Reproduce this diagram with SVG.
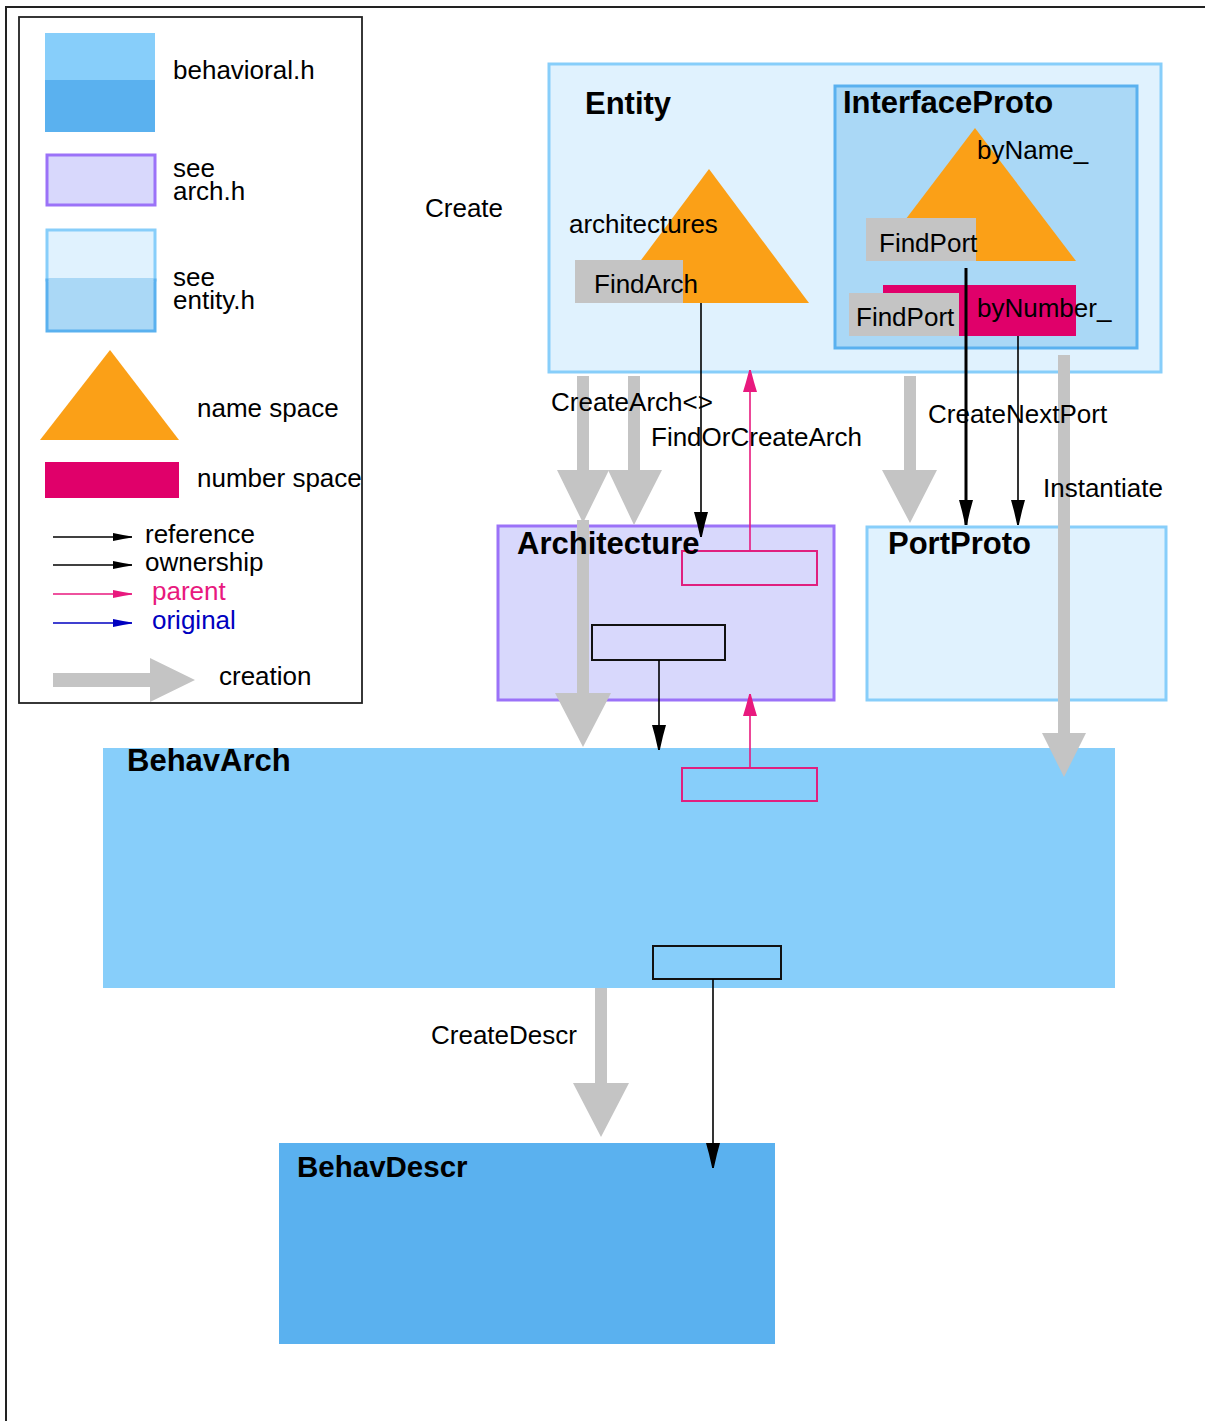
<svg xmlns="http://www.w3.org/2000/svg" width="1205" height="1421" viewBox="0 0 1205 1421">
  <style>
    text { font-family: "Liberation Sans", Arial, sans-serif; fill: #000; }
    .t { font-size: 26px; }
    .title { font-size: 31px; font-weight: bold; }
    .frame { fill: none; stroke: #222; stroke-width: 2; }
    .ent { fill: #E0F2FE; stroke: #87CEFA; stroke-width: 3; }
    .iface { fill: #AAD8F6; stroke: #5AB1EF; stroke-width: 3; }
    .arch { fill: #D8D8FC; stroke: #9B72F8; stroke-width: 3; }
    .behav { fill: #87CEFA; }
    .descr { fill: #5AB1EF; }
    .ns { fill: #FBA017; }
    .num { fill: #E0006A; }
    .method { fill: #C4C4C4; }
    .slotP { fill: none; stroke: #E0207F; stroke-width: 2; }
    .slotK { fill: none; stroke: #111; stroke-width: 2; }
    .create { fill: #C4C4C4; }
    .ref { stroke: #000; stroke-width: 1.6; fill: none; }
    .own { stroke: #000; stroke-width: 3; fill: none; }
    .par { stroke: #E8197E; stroke-width: 1.6; fill: none; }
    .orig { stroke: #0000C0; stroke-width: 1.6; fill: none; }
  </style>
  <defs>
    <marker id="headK" markerUnits="userSpaceOnUse" viewBox="-26 -8 28 16" refX="0" refY="0" markerWidth="28" markerHeight="16" orient="auto">
      <path d="M-25,-7 L-25,7 L-14,4 L0,0.8 L0,-0.8 L-14,-4 Z" fill="#000"/>
    </marker>
    <marker id="headP" markerUnits="userSpaceOnUse" viewBox="-26 -8 28 16" refX="0" refY="0" markerWidth="28" markerHeight="16" orient="auto">
      <path d="M-22,-7 L-22,7 L-12,4 L0,0.8 L0,-0.8 L-12,-4 Z" fill="#E8197E"/>
    </marker>
    <marker id="smallK" markerUnits="userSpaceOnUse" viewBox="-20 -5 21 10" refX="0" refY="0" markerWidth="21" markerHeight="10" orient="auto">
      <path d="M-19,-4 L-19,4 L-9,2 L0,0.5 L0,-0.5 L-9,-2 Z" fill="#000"/>
    </marker>
    <marker id="smallP" markerUnits="userSpaceOnUse" viewBox="-20 -5 21 10" refX="0" refY="0" markerWidth="21" markerHeight="10" orient="auto">
      <path d="M-19,-4 L-19,4 L-9,2 L0,0.5 L0,-0.5 L-9,-2 Z" fill="#E8197E"/>
    </marker>
    <marker id="smallB" markerUnits="userSpaceOnUse" viewBox="-20 -5 21 10" refX="0" refY="0" markerWidth="21" markerHeight="10" orient="auto">
      <path d="M-19,-4 L-19,4 L-9,2 L0,0.5 L0,-0.5 L-9,-2 Z" fill="#0000C0"/>
    </marker>
  </defs>

  <rect width="1205" height="1421" fill="#fff"/>

  <!-- page frame -->
  <path class="frame" d="M1205,7 H6 V1421"/>

  <!-- legend -->
  <g id="legend">
    <rect x="19" y="17" width="343" height="686" fill="#fff" stroke="#222" stroke-width="1.8"/>
    <rect x="45" y="33" width="110" height="47" fill="#87CEFA"/>
    <rect x="45" y="80" width="110" height="52" fill="#5AB1EF"/>
    <text class="t" x="173" y="79">behavioral.h</text>
    <rect x="47" y="155" width="108" height="50" class="arch"/>
    <text class="t" x="173" y="177">see</text>
    <text class="t" x="173" y="200">arch.h</text>
    <rect x="47" y="230" width="108" height="50" fill="#E0F2FE" stroke="#87CEFA" stroke-width="3"/>
    <rect x="47" y="280" width="108" height="51" fill="#AAD8F6" stroke="#5AB1EF" stroke-width="3"/>
    <rect x="48.5" y="278" width="105" height="4" fill="#AAD8F6"/>
    <text class="t" x="173" y="286">see</text>
    <text class="t" x="173" y="309">entity.h</text>
    <polygon class="ns" points="110,350 179,440 40,440"/>
    <text class="t" x="197" y="417">name space</text>
    <rect class="num" x="45" y="462" width="134" height="36"/>
    <text class="t" x="197" y="487">number space</text>
    <line class="ref" x1="53" y1="537" x2="132" y2="537" marker-end="url(#smallK)"/>
    <text class="t" x="145" y="543">reference</text>
    <line class="ref" x1="53" y1="565" x2="132" y2="565" marker-end="url(#smallK)"/>
    <text class="t" x="145" y="571">ownership</text>
    <line class="par" x1="53" y1="594" x2="132" y2="594" marker-end="url(#smallP)"/>
    <text class="t" x="152" y="600" style="fill:#E8197E">parent</text>
    <line class="orig" x1="53" y1="623" x2="132" y2="623" marker-end="url(#smallB)"/>
    <text class="t" x="152" y="629" style="fill:#0000C0">original</text>
    <polygon class="create" points="53,673 150,673 150,658 195,680 150,702 150,687 53,687"/>
    <text class="t" x="219" y="685">creation</text>
  </g>

  <!-- Entity with its InterfaceProto -->
  <g id="entity">
    <rect class="ent" x="549" y="64" width="612" height="308"/>
    <text class="title" x="585" y="114">Entity</text>
    <polygon class="ns" points="709,169 809,303 609,303"/>
    <text class="t" x="569" y="233">architectures</text>
    <rect class="method" x="575" y="260" width="108" height="43"/>
    <text class="t" x="594" y="293">FindArch</text>
  </g>
  <g id="interfaceproto">
    <rect class="iface" x="835" y="86" width="302" height="262"/>
    <text class="title" x="843" y="113">InterfaceProto</text>
    <polygon class="ns" points="975,128 1076,261 874,261"/>
    <text class="t" x="977" y="159">byName_</text>
    <rect class="method" x="866" y="218" width="110" height="43"/>
    <text class="t" x="879" y="252">FindPort</text>
    <rect class="num" x="883" y="285" width="193" height="51"/>
    <rect class="method" x="849" y="293" width="110" height="43"/>
    <text class="t" x="856" y="326">FindPort</text>
    <text class="t" x="977" y="317">byNumber_</text>
  </g>

  <!-- Architecture (box and slots; its title sits above the creation bar) -->
  <g id="architecture">
    <rect class="arch" x="498" y="526" width="336" height="174"/>
    <rect class="slotP" x="682" y="551" width="135" height="34"/>
    <rect class="slotK" x="592" y="625" width="133" height="35"/>
  </g>

  <!-- PortProto -->
  <g id="portproto">
    <rect class="ent" x="867" y="527" width="299" height="173"/>
    <text class="title" x="888" y="554">PortProto</text>
  </g>

  <!-- BehavArch -->
  <g id="behavarch">
    <rect class="behav" x="103" y="748" width="1012" height="240"/>
    <text class="title" x="127" y="771">BehavArch</text>
    <rect class="slotP" x="682" y="768" width="135" height="33"/>
    <rect class="slotK" x="653" y="946" width="128" height="33"/>
  </g>

  <!-- BehavDescr -->
  <g id="behavdescr">
    <rect class="descr" x="279" y="1143" width="496" height="201"/>
    <text class="title" x="297" y="1177" style="font-size:29.5px">BehavDescr</text>
  </g>

  <!-- connectors -->
  <g id="connectors">
    <!-- creation arrows -->
    <polygon class="create" points="577,376 589,376 589,470 609,470 583,523 557,470 577,470"/>
    <polygon class="create" points="577,520 589,520 589,693 611,693 583,747 555,693 577,693"/>
    <polygon class="create" points="628,376 640,376 640,470 662,470 634,525 608,470 628,470"/>
    <polygon class="create" points="904,376 916,376 916,470 937,470 910,523 882,470 904,470"/>
    <polygon class="create" points="1058,355 1070,355 1070,733 1086,733 1064,777 1042,733 1058,733"/>
    <polygon class="create" points="595,988 607,988 607,1083 629,1083 601,1137 573,1083 595,1083"/>

    <!-- references / ownership -->
    <line class="ref" x1="701" y1="303" x2="701" y2="537" marker-end="url(#headK)"/>
    <line class="own" x1="966" y1="268" x2="966" y2="525" marker-end="url(#headK)"/>
    <line class="ref" x1="1018" y1="336" x2="1018" y2="525" marker-end="url(#headK)"/>
    <line class="ref" x1="659" y1="660" x2="659" y2="750" marker-end="url(#headK)"/>
    <line class="ref" x1="713" y1="979" x2="713" y2="1168" marker-end="url(#headK)"/>

    <!-- parent links -->
    <line class="par" x1="750" y1="551" x2="750" y2="370" marker-end="url(#headP)"/>
    <line class="par" x1="750" y1="768" x2="750" y2="694" marker-end="url(#headP)"/>
  </g>

  <g id="architecture-title">
    <text class="title" x="517" y="554">Architecture</text>
  </g>

  <!-- connector labels -->
  <g id="labels">
    <text class="t" x="425" y="217">Create</text>
    <text class="t" x="551" y="411">CreateArch&lt;&gt;</text>
    <text class="t" x="651" y="446">FindOrCreateArch</text>
    <text class="t" x="928" y="423">CreateNextPort</text>
    <text class="t" x="1043" y="497">Instantiate</text>
    <text class="t" x="431" y="1044">CreateDescr</text>
  </g>
</svg>
